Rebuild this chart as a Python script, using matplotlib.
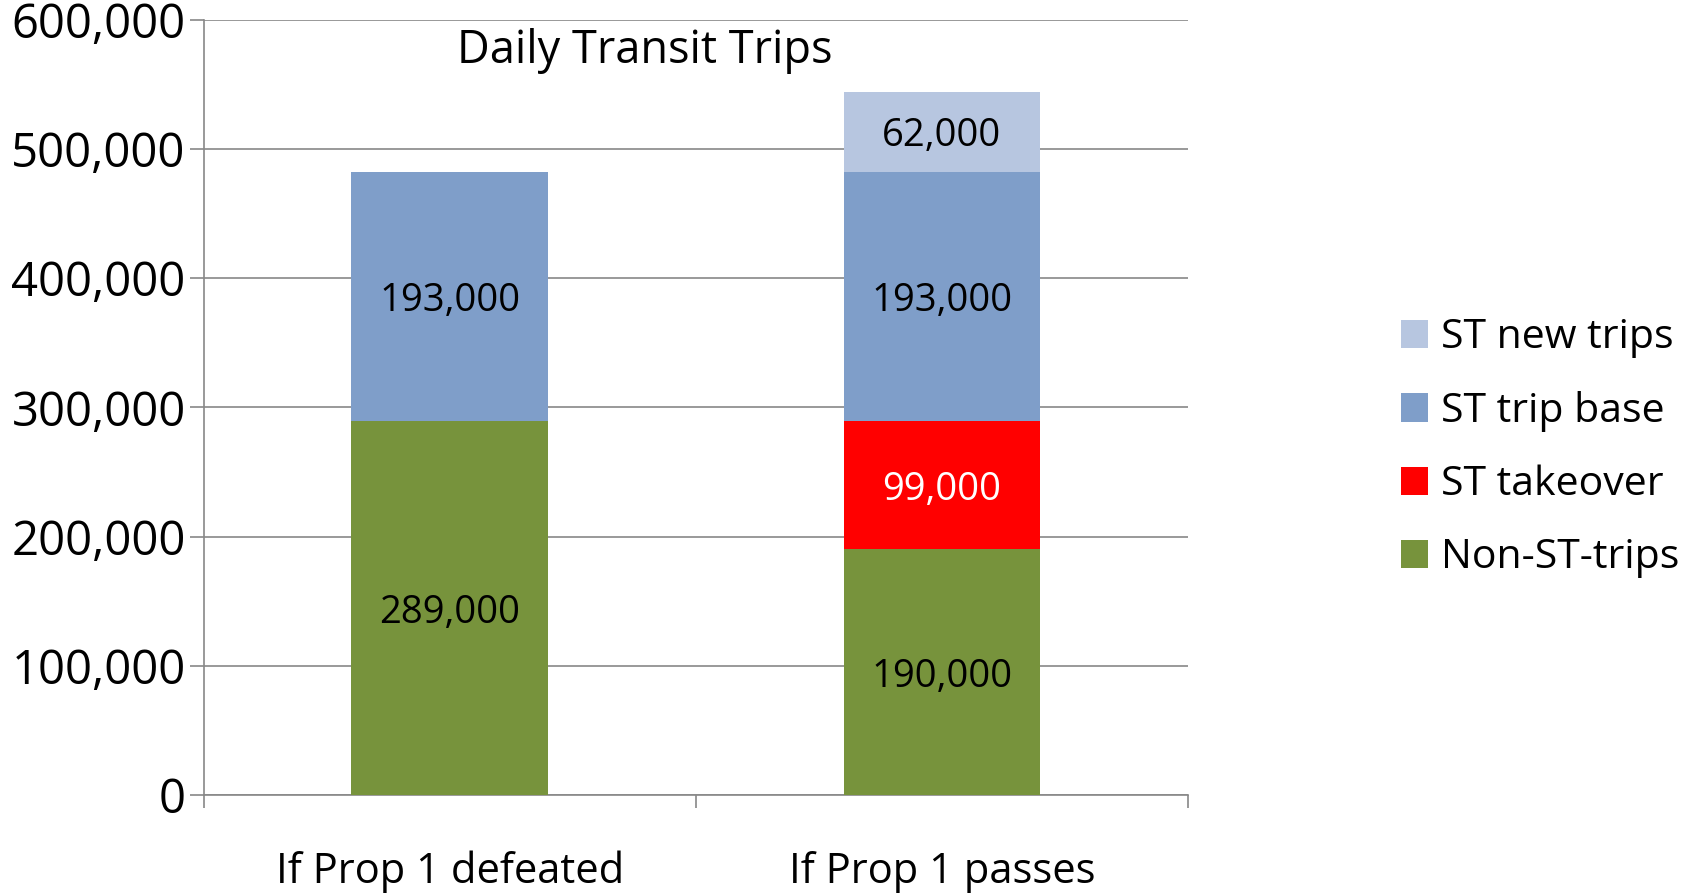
import numpy as np
import matplotlib.pyplot as plt

plt.rcParams['font.family'] = ['Open Sans', 'DejaVu Sans']

# data
scenarios = ["If Prop 1 defeated", "If Prop 1 passes"]
non_st = [289000, 190000]
takeover = [0, 99000]
trip_base = [193000, 193000]
new_trips = [0, 62000]

series = [
    ("Non-ST-trips", non_st, "#77933C", "black"),
    ("ST takeover", takeover, "#FF0000", "white"),
    ("ST trip base", trip_base, "#7F9EC9", "black"),
    ("ST new trips", new_trips, "#B7C6E0", "black"),
]

fig = plt.figure(figsize=(16.84, 8.96), dpi=100)
ax = fig.add_axes([0.121, 0.1127, 0.5845, 0.8655])

x = np.arange(len(scenarios))
bottom = np.zeros(len(scenarios))
handles = []
for name, vals, color, tcolor in series:
    vals = np.array(vals, dtype=float)
    bars = ax.bar(x, vals, width=0.4, bottom=bottom, color=color, label=name, zorder=3)
    handles.append(bars)
    for xi, b, v in zip(x, bottom, vals):
        if v > 0:
            ax.text(xi, b + v / 2, f"{int(v):,}", ha="center", va="center_baseline",
                    fontsize=27.5, color=tcolor, zorder=4)
    bottom += vals

ax.set_xlim(-0.5, 1.5)
ax.set_ylim(0, 600000)
ax.set_yticks(np.arange(0, 600001, 100000))
ax.set_yticklabels([f"{v:,}" for v in range(0, 600001, 100000)], fontsize=34)
ax.set_xticks([0, 1])
ax.set_xticklabels(scenarios, fontsize=30)
ax.set_xticks([-0.5, 0.5, 1.5], minor=True)
ax.tick_params(axis="x", which="major", length=0, pad=40)
ax.tick_params(axis="x", which="minor", length=9, color="#888888", width=1.2)
ax.tick_params(axis="y", length=10, color="#888888", width=1.2, pad=3)
ax.grid(axis="y", color="#888888", linewidth=1.2, zorder=0)
for s in ["top", "right"]:
    ax.spines[s].set_visible(False)
for s in ["left", "bottom"]:
    ax.spines[s].set_color("#888888")
    ax.spines[s].set_linewidth(1.2)

ax.text(0.448, 0.96, "Daily Transit Trips", transform=ax.transAxes, ha="center",
        va="center", fontsize=32.5)

leg = fig.legend(handles=handles[::-1], loc="center left", bbox_to_anchor=(0.822, 0.50),
                 frameon=False, fontsize=29.5, handlelength=0.68, handleheight=0.68,
                 handletextpad=0.3, labelspacing=0.8, borderaxespad=0)

fig.savefig("out.png", dpi=100)
